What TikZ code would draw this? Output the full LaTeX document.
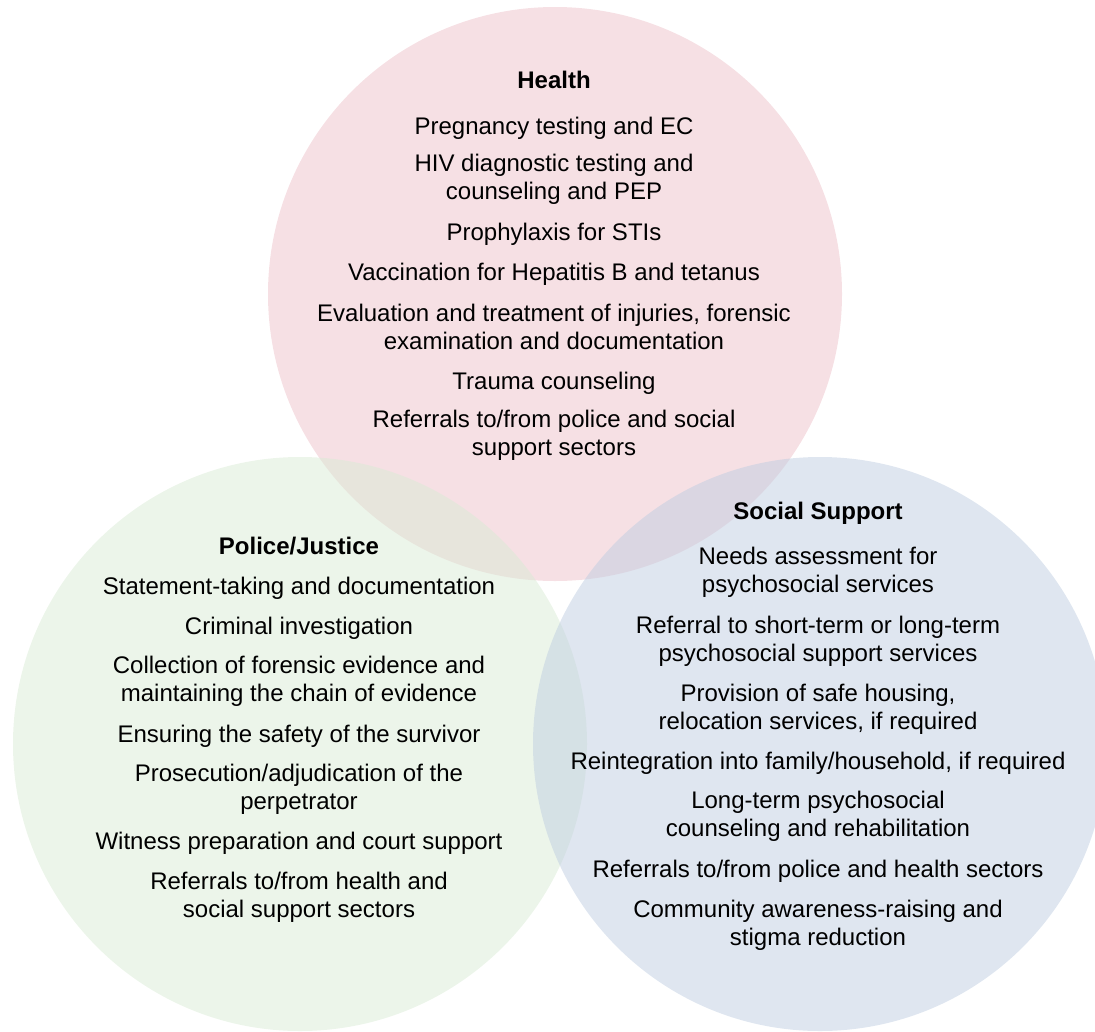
\documentclass[tikz,border=0pt]{standalone}
\usepackage{fontspec}
\setmainfont{Liberation Sans}
\definecolor{healthc}{RGB}{237,193,201}
\definecolor{policec}{RGB}{217,235,213}
\definecolor{socialc}{RGB}{191,205,225}
\begin{document}
\begin{tikzpicture}[x=1pt,y=-1pt,
  venn/.style={circle,minimum size=574pt,inner sep=0pt,draw=none,fill opacity=0.5},
  item/.style={align=center,inner sep=0pt,font=\fontsize{24}{28}\selectfont},
  head/.style={item,font=\fontsize{24}{28}\selectfont\bfseries}]
\useasboundingbox (0,0) rectangle (1095,1031);
\begin{scope}
\clip (0,0) rectangle (1095,1031);
\node[venn,fill=healthc] (health) at (555,294) {};
\node[venn,fill=policec] (police) at (300,744) {};
\node[venn,fill=socialc] (social) at (820,744) {};
\end{scope}
% Health
\node[head] (h0) at (554,80) {Health};
\node[item] (h1) at (554,128) {Pregnancy testing and EC};
\node[item] (h2) at (554,179) {HIV diagnostic testing and\\counseling and PEP};
\node[item] (h3) at (554,234) {Prophylaxis for STIs};
\node[item] (h4) at (554,274) {Vaccination for Hepatitis B and tetanus};
\node[item] (h5) at (554,327) {Evaluation and treatment of injuries, forensic\\examination and documentation};
\node[item] (h6) at (554,383) {Trauma counseling};
\node[item] (h7) at (554,435) {Referrals to/from police and social\\support sectors};
% Police/Justice
\node[head] (p0) at (299,546) {Police/Justice};
\node[item] (p1) at (299,588) {Statement-taking and documentation};
\node[item] (p2) at (299,628) {Criminal investigation};
\node[item] (p3) at (299,681) {Collection of forensic evidence and\\maintaining the chain of evidence};
\node[item] (p4) at (299,736) {Ensuring the safety of the survivor};
\node[item] (p5) at (299,789) {Prosecution/adjudication of the\\perpetrator};
\node[item] (p6) at (299,843) {Witness preparation and court support};
\node[item] (p7) at (299,897) {Referrals to/from health and\\social support sectors};
% Social Support
\node[head] (s0) at (818,513) {Social Support};
\node[item] (s1) at (818,572) {Needs assessment for\\psychosocial services};
\node[item] (s2) at (818,641) {Referral to short-term or long-term\\psychosocial support services};
\node[item] (s3) at (818,709) {Provision of safe housing,\\relocation services, if required};
\node[item] (s4) at (818,763) {Reintegration into family/household, if required};
\node[item] (s5) at (818,816) {Long-term psychosocial\\counseling and rehabilitation};
\node[item] (s6) at (818,871) {Referrals to/from police and health sectors};
\node[item] (s7) at (818,925) {Community awareness-raising and\\stigma reduction};
\end{tikzpicture}
\end{document}
